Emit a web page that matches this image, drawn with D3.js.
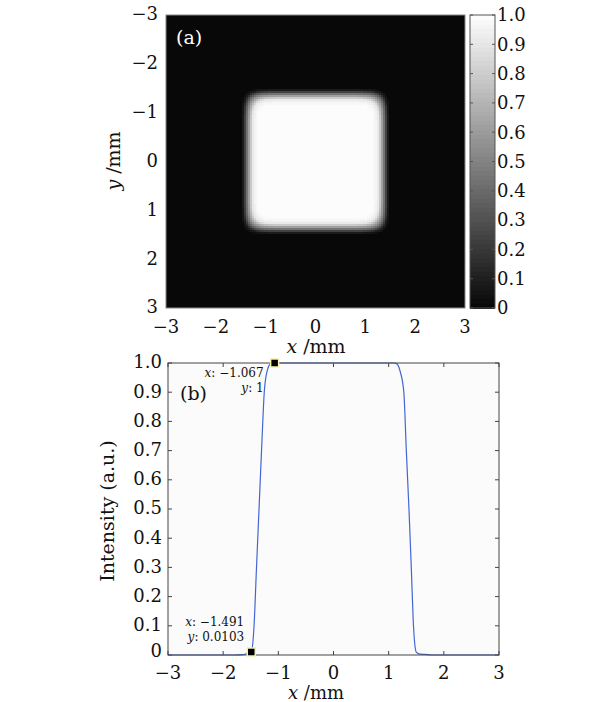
<!DOCTYPE html>
<html>
<head>
<meta charset="utf-8">
<script src="https://cdn.jsdelivr.net/npm/d3@7"></script>
<style>
  body { margin: 0; background: #fff; }
</style>
</head>
<body>
<svg id="chart" width="615" height="702" font-family="'DejaVu Serif', 'Liberation Serif', serif"></svg>
<script>
// cross-section profile along x (mm)
const profileX = [-3, -1.8, -1.65, -1.6, -1.55, -1.491, -1.44, -1.4, -1.35, -1.3, -1.255, -1.2, -1.14, -1.067,
                  1.1, 1.15, 1.21, 1.275, 1.32, 1.368, 1.41, 1.45, 1.5, 1.55, 1.65, 1.72, 1.8, 3];
const profileI = [0, 0, 0.001, 0.003, 0.006, 0.0103, 0.1, 0.28, 0.5, 0.72, 0.9, 0.975, 0.997, 1,
                  1, 0.997, 0.97, 0.9, 0.7, 0.5, 0.3, 0.1, 0.01, 0.004, 0.002, 0.001, 0, 0];
const axisTicks = [-3, -2, -1, 0, 1, 2, 3];
const cbarTicks = [0, 0.1, 0.2, 0.3, 0.4, 0.5, 0.6, 0.7, 0.8, 0.9, 1.0];
const cbarLabels = ["0", "0.1", "0.2", "0.3", "0.4", "0.5", "0.6", "0.7", "0.8", "0.9", "1.0"];
const intTicks = [0, 0.1, 0.2, 0.3, 0.4, 0.5, 0.6, 0.7, 0.8, 0.9, 1.0];
const intLabels = ["0", "0.1", "0.2", "0.3", "0.4", "0.5", "0.6", "0.7", "0.8", "0.9", "1.0"];
const tips = [
  {x: -1.067, y: 1, lx: "\u22121.067", ly: "1", dx: -11, dy: 14},
  {x: -1.491, y: 0.0103, lx: "\u22121.491", ly: "0.0103", dx: -7, dy: -26}
];

const svg = d3.select("#chart");
const ink = "#111";
const nLevels = 64;
const gray = v => d3.interpolateRgb("#080808", "#fcfcfc")(Math.min(nLevels - 1, Math.floor(v * nLevels)) / (nLevels - 1));
const prof = d3.scaleLinear().domain(profileX).range(profileI).clamp(true);
const fmt = d => d < 0 ? "\u2212" + Math.abs(d) : String(d);

// ---------- panel (a): intensity map ----------
const pa = {x0: 166, x1: 465, y0: 15, y1: 308};
const xa = d3.scaleLinear().domain([-3, 3]).range([pa.x0, pa.x1]);
const ya = d3.scaleLinear().domain([-3, 3]).range([pa.y0, pa.y1]);

const gA = svg.append("g");
gA.append("rect")
  .attr("x", pa.x0).attr("y", pa.y0)
  .attr("width", pa.x1 - pa.x0).attr("height", pa.y1 - pa.y0)
  .attr("fill", gray(0));

// the square beam: the profile of (b) applied on a rounded-square radius
const step = 0.04;
const grid = d3.range(-3, 3 - 1e-9, step);
const pw = 10;
const cells = [];
grid.forEach(gx => grid.forEach(gy => {
  const cx = gx + step / 2, cy = gy + step / 2;
  const r = Math.pow(Math.pow(Math.abs(cx), pw) + Math.pow(Math.abs(cy), pw), 1 / pw);
  const v = prof(r);
  if (v > 0.008) cells.push({gx, gy, v});
}));
gA.append("g").attr("shape-rendering", "crispEdges")
  .selectAll("rect").data(cells).join("rect")
  .attr("x", d => xa(d.gx)).attr("y", d => ya(d.gy))
  .attr("width", xa(step) - xa(0) + 0.6).attr("height", ya(step) - ya(0) + 0.6)
  .attr("fill", d => gray(d.v));

gA.append("rect")
  .attr("x", pa.x0).attr("y", pa.y0)
  .attr("width", pa.x1 - pa.x0).attr("height", pa.y1 - pa.y0)
  .attr("fill", "none").attr("stroke", "#888").attr("stroke-width", 1);

gA.append("text").attr("x", 176).attr("y", 44).attr("font-size", 19)
  .attr("fill", "#fff").text("(a)");

gA.selectAll(".ty").data(axisTicks).join("text")
  .attr("x", 158).attr("y", d => ya(d)).attr("dy", "0.3em")
  .attr("text-anchor", "end").attr("font-size", 18).attr("fill", ink)
  .text(fmt);
gA.selectAll(".tx").data(axisTicks).join("text")
  .attr("x", d => xa(d)).attr("y", 333)
  .attr("text-anchor", "middle").attr("font-size", 18).attr("fill", ink)
  .text(fmt);

const xlabA = gA.append("text").attr("x", 316).attr("y", 353)
  .attr("text-anchor", "middle").attr("font-size", 19).attr("fill", ink);
xlabA.append("tspan").attr("font-style", "italic").text("x");
xlabA.append("tspan").text(" /mm");
const ylabA = gA.append("text")
  .attr("transform", "translate(120,161) rotate(-90)")
  .attr("text-anchor", "middle").attr("font-size", 19).attr("fill", ink);
ylabA.append("tspan").attr("font-style", "italic").text("y");
ylabA.append("tspan").text(" /mm");

// colorbar
const cb = {x0: 470, x1: 495};
const yc = d3.scaleLinear().domain([0, 1]).range([pa.y1, pa.y0]);
const levels = d3.range(nLevels).map(i => i / nLevels);
gA.append("g").attr("shape-rendering", "crispEdges")
  .selectAll("rect").data(levels).join("rect")
  .attr("x", cb.x0).attr("width", cb.x1 - cb.x0)
  .attr("y", d => yc(d + 1 / nLevels)).attr("height", yc(0) - yc(1 / nLevels) + 0.5)
  .attr("fill", d => gray(d + 0.5 / nLevels));
gA.append("rect")
  .attr("x", cb.x0).attr("y", pa.y0)
  .attr("width", cb.x1 - cb.x0).attr("height", pa.y1 - pa.y0)
  .attr("fill", "none").attr("stroke", "#555");
gA.selectAll(".ct").data(cbarTicks).join("path")
  .attr("stroke", "#555")
  .attr("d", d => `M${cb.x0},${yc(d)}h3M${cb.x1},${yc(d)}h-3`);
gA.selectAll(".cl").data(cbarTicks).join("text")
  .attr("x", 497).attr("y", d => yc(d)).attr("dy", "0.35em")
  .attr("font-size", 18).attr("fill", ink)
  .text((d, i) => cbarLabels[i]);

// ---------- panel (b): cross-section ----------
const pb = {x0: 168, x1: 499, y0: 363, y1: 655};
const xb = d3.scaleLinear().domain([-3, 3]).range([pb.x0, pb.x1]);
const yb = d3.scaleLinear().domain([0, 1]).range([pb.y1, pb.y0]);
const gB = svg.append("g");

gB.append("rect")
  .attr("x", pb.x0).attr("y", pb.y0)
  .attr("width", pb.x1 - pb.x0).attr("height", pb.y1 - pb.y0)
  .attr("fill", "#fbfbfb");

gB.selectAll(".bx").data(axisTicks).join("path")
  .attr("stroke", "#444")
  .attr("d", d => `M${xb(d)},${pb.y1}v-4M${xb(d)},${pb.y0}v4`);
gB.selectAll(".by").data(intTicks).join("path")
  .attr("stroke", "#444")
  .attr("d", d => `M${pb.x0},${yb(d)}h4M${pb.x1},${yb(d)}h-4`);

const line = d3.line().x((d, i) => xb(profileX[i])).y(d => yb(d)).curve(d3.curveMonotoneX);
gB.append("path").datum(profileI)
  .attr("fill", "none").attr("stroke", "#4466d2").attr("stroke-width", 1.2)
  .attr("d", line);

gB.append("rect")
  .attr("x", pb.x0).attr("y", pb.y0)
  .attr("width", pb.x1 - pb.x0).attr("height", pb.y1 - pb.y0)
  .attr("fill", "none").attr("stroke", "#444").attr("stroke-width", 1);

gB.selectAll(".lx").data(axisTicks).join("text")
  .attr("x", d => xb(d)).attr("y", 679)
  .attr("text-anchor", "middle").attr("font-size", 18).attr("fill", ink)
  .text(fmt);
gB.selectAll(".ly").data(intTicks).join("text")
  .attr("x", 162).attr("y", d => yb(d)).attr("dy", d => d === 0 ? "0.1em" : "0.3em")
  .attr("text-anchor", "end").attr("font-size", 18).attr("fill", ink)
  .text((d, i) => intLabels[i]);

gB.append("text").attr("x", 180).attr("y", 400).attr("font-size", 19).attr("fill", ink).text("(b)");

const xlabB = gB.append("text").attr("x", 316).attr("y", 699)
  .attr("text-anchor", "middle").attr("font-size", 18).attr("fill", ink);
xlabB.append("tspan").attr("font-style", "italic").text("x");
xlabB.append("tspan").text(" /mm");
gB.append("text")
  .attr("transform", "translate(114,511) rotate(-90)")
  .attr("text-anchor", "middle").attr("font-size", 19).attr("fill", ink)
  .text("Intensity (a.u.)");

// data tips
const tg = gB.selectAll(".tip").data(tips).join("g");
tg.append("rect")
  .attr("x", d => xb(d.x) - 4).attr("y", d => yb(d.y) - 4)
  .attr("width", 8).attr("height", 8)
  .attr("fill", "#000").attr("stroke", "#f4f0b0").attr("stroke-width", 1.5);
const t1 = tg.append("text")
  .attr("x", d => xb(d.x) + d.dx).attr("y", d => yb(d.y) + d.dy)
  .attr("text-anchor", "end").attr("font-size", 12).attr("fill", ink);
t1.append("tspan").attr("font-style", "italic").text("x");
t1.append("tspan").text(d => ": " + d.lx);
const t2 = tg.append("text")
  .attr("x", d => xb(d.x) + d.dx).attr("y", d => yb(d.y) + d.dy + 15)
  .attr("text-anchor", "end").attr("font-size", 12).attr("fill", ink);
t2.append("tspan").attr("font-style", "italic").text("y");
t2.append("tspan").text(d => ": " + d.ly);
</script>
</body>
</html>
